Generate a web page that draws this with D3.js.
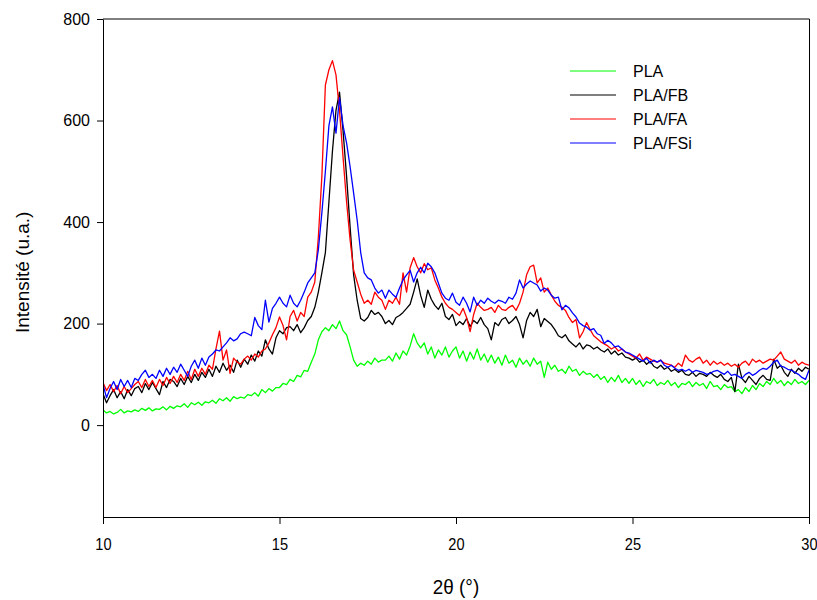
<!DOCTYPE html>
<html>
<head>
<meta charset="utf-8">
<script src="https://cdn.jsdelivr.net/npm/d3@7"></script>
<style>
  body { margin: 0; background: #fff; }
  text { font-family: "Liberation Sans", Arial, sans-serif; fill: #000; }
</style>
</head>
<body>
<svg id="chart"></svg>
<script>
// 2theta grid, 0.1 deg steps from 10 to 30
var angles = d3.range(0, 201).map(i => +(10 + i * 0.1).toFixed(1));

// intensities, one value per 0.1 deg
var pla = [
  30, 24, 27, 22, 25, 31, 24, 28, 26, 30,
  27, 33, 29, 34, 28, 32, 31, 36, 30, 37,
  33, 38, 36, 42, 35, 44, 40, 45, 39, 46,
  44, 49, 43, 52, 48, 54, 47, 56, 52, 55,
  53, 60, 58, 64, 57, 70, 64, 72, 67, 74,
  74, 82, 80, 90, 86, 98, 95, 108, 106, 124,
  140, 168, 184, 192, 186, 198, 190, 205, 186, 178,
  154, 128, 116, 122, 118, 126, 120, 132, 124, 128,
  128, 136, 126, 142, 130, 146, 138, 156, 180, 162,
  152, 162, 140, 154, 132, 148, 138, 154, 134, 146,
  154, 132, 146, 126, 144, 130, 150, 128, 140, 124,
  138, 122, 134, 118, 138, 122, 128, 114, 132, 120,
  128, 116, 132, 120, 126, 94, 124, 110, 118, 106,
  110, 102, 116, 106, 110, 98, 106, 100, 102, 94,
  100, 90, 96, 84, 94, 86, 98, 84, 92, 82,
  92, 80, 88, 76, 86, 82, 90, 78, 84, 80,
  88, 78, 84, 74, 82, 80, 86, 76, 84, 78,
  82, 72, 86, 76, 78, 70, 80, 74, 76, 66,
  70, 62, 74, 66, 78, 70, 82, 76, 86, 80,
  92, 82, 88, 78, 86, 80, 90, 82, 86, 80,
  88
];
var plaFB = [
  62, 44, 58, 70, 54, 66, 52, 70, 58, 72,
  76, 64, 82, 70, 84, 72, 60, 86, 74, 90,
  86, 76, 92, 80, 96, 84, 100, 88, 104, 94,
  110, 96, 116, 104, 122, 108, 118, 104, 128, 114,
  130, 120, 138, 126, 146, 136, 168, 150, 140, 172,
  186, 180, 192, 194, 186, 198, 182, 192, 206, 214,
  232, 262, 300, 340, 440, 540, 620, 656, 580, 490,
  390, 296, 246, 210, 205, 212, 226, 218, 222, 214,
  200, 206, 198, 212, 216, 222, 230, 238, 262, 288,
  255, 232, 266, 248, 236, 228, 240, 214, 208, 218,
  196, 204, 198, 210, 194, 206, 200, 212, 198, 190,
  168, 202, 196, 208, 212, 200, 206, 214, 198, 172,
  206, 222, 214, 228, 194, 210, 204, 198, 188, 176,
  172, 178, 166, 160, 154, 162, 150, 158, 156, 150,
  154, 148, 144, 150, 140, 146, 138, 142, 134, 132,
  128, 132, 124, 128, 120, 126, 116, 112, 118, 110,
  114, 106, 110, 104, 108, 100, 98, 104, 96, 102,
  100, 96, 104, 98, 94, 100, 90, 86, 94, 66,
  120, 92, 84, 96, 88, 80, 92, 98, 90, 88,
  130, 112, 118, 104, 96, 110, 102, 112, 106, 114,
  110
];
var plaFA = [
  84, 68, 80, 66, 78, 62, 76, 64, 72, 80,
  86, 74, 90, 76, 88, 74, 90, 78, 94, 82,
  96, 84, 100, 88, 106, 90, 110, 96, 112, 100,
  118, 110, 150, 185, 128, 148, 102, 132, 124, 120,
  130, 136, 128, 140, 134, 146, 150, 162, 178, 192,
  213, 196, 168, 214, 226, 205, 222, 214, 252, 262,
  282, 370, 490, 670, 700, 718, 690, 620, 528, 440,
  365, 305, 282, 258, 240, 246, 238, 262, 252, 246,
  228, 246, 240, 252, 238, 300, 262, 310, 330, 312,
  300, 318, 306, 310, 286, 270, 252, 240, 232, 228,
  222, 216, 230, 212, 184, 218, 240, 232, 226, 228,
  232, 222, 236, 228, 226, 232, 236, 226, 240, 262,
  296, 312, 315, 280, 290, 262, 270, 256, 244, 236,
  232, 226, 212, 202, 208, 172, 184, 202, 188, 176,
  170, 164, 160, 156, 150, 154, 146, 150, 144, 140,
  136, 132, 140, 128, 134, 130, 126, 124, 128, 122,
  120, 118, 114, 122, 116, 138, 128, 124, 130, 134,
  122, 128, 118, 126, 120, 124, 118, 122, 116, 120,
  114, 122, 126, 118, 130, 124, 128, 122, 126, 130,
  128, 136, 144, 130, 126, 122, 128, 118, 124, 120,
  118
];
var plaFSi = [
  80, 54, 72, 86, 70, 90, 76, 88, 74, 92,
  88, 100, 108, 94, 100, 92, 108, 96, 112, 100,
  114, 104, 120, 108, 96, 116, 128, 112, 132, 118,
  134, 140, 148, 146, 154, 162, 172, 166, 170, 180,
  183, 180, 176, 212, 196, 188, 246, 203, 230, 240,
  252, 240, 233, 256, 240, 233, 246, 262, 280, 290,
  300, 345, 418, 500, 590, 627, 575, 645, 590, 556,
  509, 457, 404, 340, 300, 290, 286, 270, 260, 266,
  250, 266, 258, 252, 270, 286, 296, 305, 282, 300,
  311, 300, 319, 312, 300, 280, 260, 250, 246, 260,
  242, 236, 252, 240, 223, 252, 236, 246, 240, 250,
  244, 240, 246, 244, 240, 252, 248, 260, 286, 270,
  278, 284, 280, 276, 264, 270, 266, 256, 250, 252,
  227, 236, 231, 221, 213, 201, 196, 193, 187, 190,
  180, 177, 161, 167, 162, 154, 156, 150, 144, 142,
  138, 134, 130, 126, 132, 122, 128, 124, 128, 118,
  114, 118, 112, 108, 110, 106, 110, 104, 108, 106,
  104, 100, 102, 106, 108, 104, 100, 106, 98, 100,
  96, 92, 100, 104, 98, 102, 108, 112, 110, 116,
  124, 128, 116, 114, 110, 108, 104, 100, 94, 90,
  108
];

var seriesNames = ["PLA", "PLA/FB", "PLA/FA", "PLA/FSi"];
var seriesColors = ["#00ff00", "#000000", "#ff0000", "#0000ff"];
var seriesValues = [pla, plaFB, plaFA, plaFSi];
var xTicks = [10, 15, 20, 25, 30];
var yTicks = [0, 200, 400, 600, 800];

var width = 817;
var height = 600;
var margin = { top: 19, right: 8, bottom: 83, left: 103 };

var svg = d3.select("#chart").attr("width", width).attr("height", height);

var x = d3.scaleLinear().domain([10, 30]).range([margin.left, width - margin.right]);
var y = d3.scaleLinear().domain([-181, 800]).range([height - margin.bottom, margin.top]);

// clip lines to the plot box
svg.append("clipPath").attr("id", "plot")
  .append("rect")
  .attr("x", margin.left).attr("y", margin.top)
  .attr("width", x(30) - x(10)).attr("height", y(-181) - y(800));

var line = d3.line()
  .x(d => x(d[0]))
  .y(d => y(d[1]));

svg.append("g").attr("clip-path", "url(#plot)")
  .selectAll("path")
  .data(seriesValues)
  .enter()
  .append("path")
  .attr("fill", "none")
  .attr("stroke", (d, i) => seriesColors[i])
  .attr("stroke-width", 1.3)
  .attr("stroke-linejoin", "round")
  .attr("d", d => line(d.map((v, i) => [angles[i], v])));

// frame: top and right edges without ticks
svg.append("path")
  .attr("fill", "none")
  .attr("stroke", "#000")
  .attr("stroke-width", 1)
  .attr("d", "M" + x(10) + "," + y(800) + "H" + (x(30) + 0.5) + "V" + y(-181));

// axes
var xAxis = svg.append("g")
  .attr("transform", "translate(0," + y(-181) + ")")
  .call(d3.axisBottom(x).tickValues(xTicks).tickSize(7).tickPadding(14).tickSizeOuter(0));
// the tick labels are narrow in the original, squeeze them
xAxis.selectAll("text")
  .style("font-size", "17px")
  .attr("transform", "scale(0.86,1)");

var yAxis = svg.append("g")
  .attr("transform", "translate(" + x(10) + ",0)")
  .call(d3.axisLeft(y).tickValues(yTicks).tickSize(6).tickPadding(7).tickSizeOuter(0));
yAxis.selectAll("text").style("font-size", "16px");
svg.selectAll(".domain").attr("stroke", "#000");

// axis titles
svg.append("g")
  .attr("transform", "translate(" + (x(10) + x(30)) / 2 + ",594) scale(0.9,1)")
  .append("text")
  .attr("text-anchor", "middle")
  .style("font-size", "21px")
  .text("2\u03b8 (\u00b0)");

svg.append("text")
  .attr("transform", "translate(29," + y(301) + ") rotate(-90)")
  .attr("text-anchor", "middle")
  .style("font-size", "19px")
  .text("Intensit\u00e9 (u.a.)");

// legend
var legend = svg.append("g").selectAll("g")
  .data(seriesNames)
  .enter()
  .append("g")
  .attr("transform", (d, i) => "translate(570," + (71 + i * 24) + ")");
legend.append("line")
  .attr("x1", 0).attr("x2", 46)
  .attr("stroke", (d, i) => seriesColors[i])
  .attr("stroke-width", 1.2);
legend.append("text")
  .attr("x", 63).attr("y", 6)
  .style("font-size", "16px")
  .text(d => d);
</script>
</body>
</html>
